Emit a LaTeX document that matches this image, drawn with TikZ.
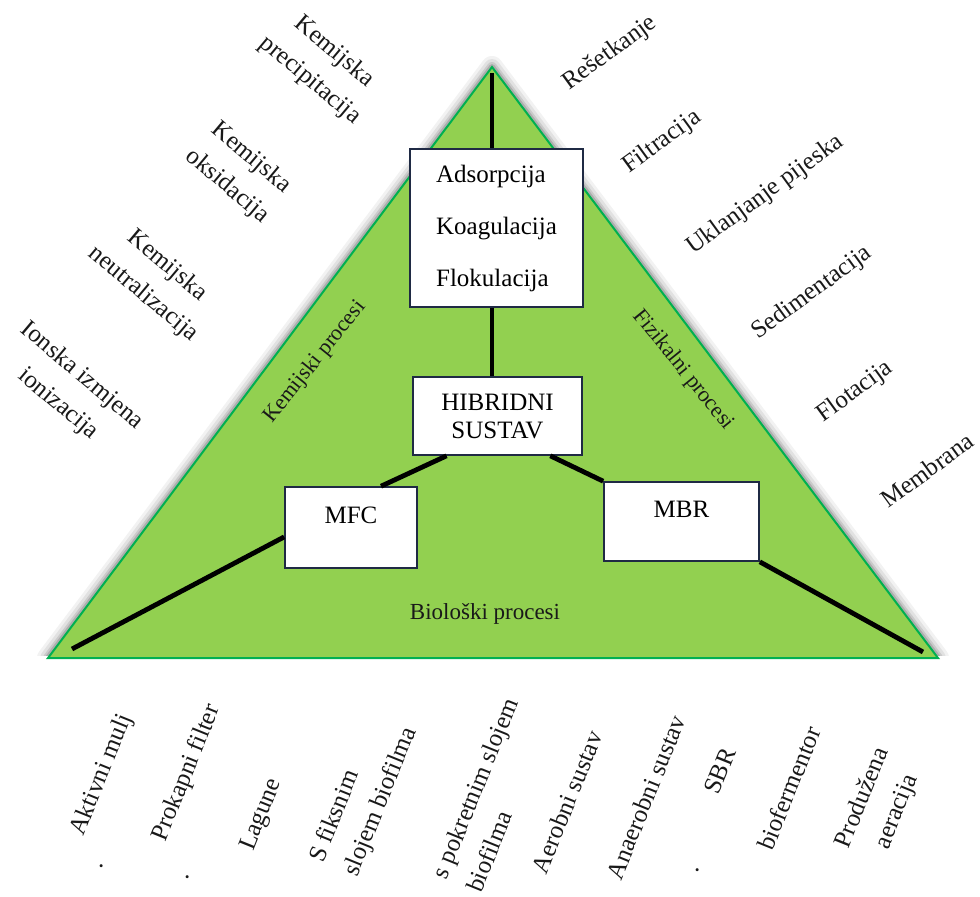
\documentclass[tikz,border=0pt]{standalone}
\usepackage{fontspec}
\setmainfont{Liberation Serif}
\definecolor{trianglegreen}{HTML}{92D050}
\definecolor{edgegreen}{HTML}{00B050}
\definecolor{boxline}{HTML}{1F2A44}

\begin{document}
\begin{tikzpicture}[x=0.5pt,y=-0.5pt]
    \tikzstyle{white box}   = [draw=boxline,line width=0.8pt,fill=white,inner sep=0pt]
    \tikzstyle{box text}    = [font=\fontsize{12.5}{15}\selectfont]
    \tikzstyle{link}        = [-,black,line width=2.4pt]
    \tikzstyle{outer label} = [font=\fontsize{12.5}{18.5}\selectfont,text=black!90,align=center,inner sep=0pt]
    \tikzstyle{chem label}  = [outer label,rotate=-40]
    \tikzstyle{phys label}  = [outer label,rotate=36]
    \tikzstyle{bio label}   = [outer label,rotate=68]
    \tikzstyle{side label}  = [font=\fontsize{11}{13}\selectfont,text=black!90]

    \useasboundingbox (0,0) rectangle (980,896);

    % triangle with soft shadow
    \coordinate (apex)      at (492,67);
    \coordinate (base west) at (48,658);
    \coordinate (base east) at (938,658);
    \begin{scope}
      \clip (0,0) rectangle (980,655);
      \foreach \w/\o in {11/0.05,8/0.07,5/0.1,3/0.14}
        \draw[line width=\w pt,black,opacity=\o,line join=round] (apex)--(base west)--(base east)--cycle;
    \end{scope}
    \filldraw[fill=trianglegreen,draw=edgegreen,line width=1pt] (apex)--(base west)--(base east)--cycle;

    % boxes
    \node[white box,box text,minimum width=86.5pt,minimum height=79pt,align=left] (sorption) at (496.5,228)
        {Adsorpcija\\[11pt]Koagulacija\\[11pt]Flokulacija};
    \node[white box,box text,minimum width=84.5pt,minimum height=39pt,align=center] (hybrid) at (497.5,416)
        {HIBRIDNI\\[-1pt]SUSTAV};
    \node[white box,box text,minimum width=66pt,minimum height=40.5pt,align=center] (mfc) at (351,527.5)
        {MFC\\[-3pt]\mbox{}};
    \node[white box,box text,minimum width=77.5pt,minimum height=39.5pt,align=center] (mbr) at (681.5,521.5)
        {MBR\\[-3pt]\mbox{}};

    % connectors
    \coordinate (apex end) at (492,73);
    \coordinate (west end) at (72,649);
    \coordinate (east end) at (923,652);
    \draw[link] (apex end) -- (apex end |- sorption.north);
    \draw[link] (sorption.south -| apex end) -- (hybrid.north -| apex end);
    \draw[link] (hybrid.218) -- (mfc.54);
    \draw[link] (mfc.188) -- (west end);
    \draw[link] (hybrid.323) -- (mbr.north west);
    \draw[link] (mbr.south east) -- (east end);

    % side names
    \node[side label,rotate=51]  (chem side) at (315,362) {Kemijski procesi};
    \node[side label,rotate=-51] (phys side) at (683,370) {Fizikalni procesi};
    \node[side label,font=\fontsize{11.5}{13}\selectfont] (bio side) at (485,614) {Biološki procesi};

    % chemical processes
    \node[chem label] (precip)  at (322,66)  {Kemijska\\precipitacija};
    \node[chem label] (oxid)    at (239,172) {Kemijska\\oksidacija};
    \node[chem label] (neutral) at (155,280) {Kemijska\\neutralizacija};
    \node[chem label] (ionic)   at (70,390)  {Ionska izmjena\\ionizacija};

    % physical processes
    \node[phys label] (screen)   at (610,53)  {Rešetkanje};
    \node[phys label] (filter)   at (662,142) {Filtracija};
    \node[phys label] (grit)     at (765,195) {Uklanjanje pijeska};
    \node[phys label] (sediment) at (812,293) {Sedimentacija};
    \node[phys label] (flot)     at (855,392) {Flotacija};
    \node[phys label] (membrane) at (927,470) {Membrana};

    % biological processes
    \node[bio label] (sludge)   at (102,775) {Aktivni mulj};
    \node[bio label] (trickle)  at (187,773) {Prokapni filter};
    \node[bio label] (lagoon)   at (262,815) {Lagune};
    \node[bio label,align=left] (fixed)  at (364,795) {S fiksnim\\slojem biofilma};
    \node[bio label,align=left] (moving) at (492,795) {s pokretnim slojem\\biofilma};
    \node[bio label] (aerobic)  at (567,802) {Aerobni sustav};
    \node[bio label] (anaerob)  at (646,797) {Anaerobni sustav};
    \node[bio label] (sbr)      at (720,771) {SBR};
    \node[bio label] (ferment)  at (789,788) {biofermentor};
    \node[bio label] (extended) at (880,805) {Produžena\\aeracija};
    \node[bio label] (dot a) at (102,866) {.};
    \node[bio label] (dot b) at (188,877) {.};
    \node[bio label] (dot c) at (698,870) {.};
\end{tikzpicture}
\end{document}
